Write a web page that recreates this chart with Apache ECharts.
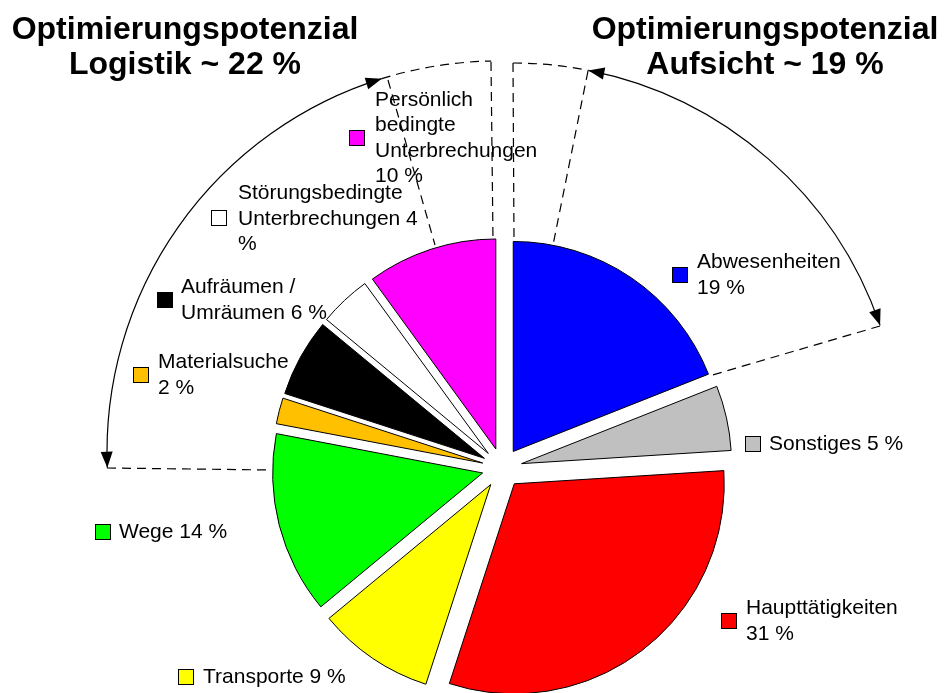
<!DOCTYPE html>
<html>
<head>
<meta charset="utf-8">
<script src="https://cdn.jsdelivr.net/npm/echarts@6/dist/echarts.min.js"></script>
<style>
html,body{margin:0;padding:0;background:#fff}
#pie{width:945px;height:693px}
</style>
</head>
<body>
<div id="pie"></div>
<script>
let fontName = '"Liberation Sans", Arial, sans-serif'

// Daten (Anteile in %), im Uhrzeigersinn ab 12 Uhr
let categories = ['Abwesenheiten','Sonstiges','Haupttätigkeiten','Transporte','Wege',
	'Materialsuche','Aufräumen / Umräumen','Störungsbedingte Unterbrechungen','Persönlich bedingte Unterbrechungen']
let values = [19, 5, 31, 9, 14, 2, 6, 4, 10]
let colors = ['#0000ff','#c0c0c0','#ff0000','#ffff00','#00ff00','#ffc000','#000000','#ffffff','#ff00ff']

// Beschriftung: Text vor dem Wert, Text nach dem Wert
let labelHead = ['Abwesenheiten\n','Sonstiges ','Haupttätigkeiten\n','Transporte ','Wege ',
	'Materialsuche\n','Aufräumen /\nUmräumen ','Störungsbedingte\nUnterbrechungen ','Persönlich\nbedingte\nUnterbrechungen\n']
let labelTail = [' %',' %',' %',' %',' %',' %',' %','\n%',' %']

// Lage der Beschriftungen (links/mitte) und der Farbkästchen
let textPos = [[697,275],[769,444],[746,621],[203,677],[119,532],[158,375],[181,300],[238,219],[375,138]]
let keyPos = [[680,275],[753,444],[729,621],[186,677],[103,532],[141,375],[165,300],[219,218],[357,138]]

let pieCenter = [502,468]
let pieRadius = 210

function deg(a) { return a*Math.PI/180 }

function arcPart(c, r, a0, a1, dashed) {
	return {
		type:'arc', z:10,
		shape:{cx:c[0], cy:c[1], r:r, startAngle:deg(a0), endAngle:deg(a1), clockwise:true},
		style:{stroke:'#000', fill:null, lineWidth:1.2, lineDash: dashed ? [9,6] : null}
	}
}

function arrowHead(c, r, a, sign) {
	let t = deg(a)
	let px = c[0] + r*Math.cos(t), py = c[1] + r*Math.sin(t)
	let ux = -Math.sin(t)*sign, uy = Math.cos(t)*sign
	let L = 16, w = 6
	let bx = px - L*ux, by = py - L*uy
	return {
		type:'polygon', z:10,
		shape:{points:[[px,py],[bx - w*uy, by + w*ux],[bx + w*uy, by - w*ux]]},
		style:{fill:'#000'}
	}
}

function dashLine(x1, y1, x2, y2) {
	return {
		type:'line', z:10,
		shape:{x1:x1, y1:y1, x2:x2, y2:y2},
		style:{stroke:'#000', lineWidth:1.2, lineDash:[9,6]}
	}
}

// unsichtbarer Kreis, der nur Beschriftungen trägt
function labelPie(label, pos, align) {
	return {
		type:'pie',
		center:pieCenter,
		radius:pieRadius,
		startAngle:90,
		silent:true,
		z:3,
		avoidLabelOverlap:false,
		itemStyle:{color:'rgba(0,0,0,0)', borderWidth:0},
		label:Object.assign({show:true, position:'outside'}, label),
		labelLine:{show:false},
		labelLayout: p => ({x:pos[p.dataIndex][0], y:pos[p.dataIndex][1], align:align, verticalAlign:'middle'}),
		data: categories.map((n,i)=>({name:n, value:values[i]}))
	}
}

function makePie(id) {
	let chart = echarts.init(document.getElementById(id))

	let keyRich = {}
	colors.forEach((c,i)=>{
		keyRich['k'+i] = {width:14, height:14, backgroundColor:c, borderColor:'#000', borderWidth:1}
	})

	let leftC = [498,452], leftR = 391
	let rightC = [513,451], rightR = 388

	let option = {
		animation:false,
		graphic:[
			{type:'text', x:185, y:13, style:{text:'Optimierungspotenzial\nLogistik ~ 22 %', fontFamily:fontName,
				fontSize:32, fontWeight:'bold', lineHeight:35, align:'center', verticalAlign:'top', fill:'#000'}},
			{type:'text', x:765, y:13, style:{text:'Optimierungspotenzial\nAufsicht ~ 19 %', fontFamily:fontName,
				fontSize:32, fontWeight:'bold', lineHeight:35, align:'center', verticalAlign:'top', fill:'#000'}},
			// Logistik
			arcPart(leftC, leftR, 177.7, 252.7, false),
			arcPart(leftC, leftR, 252.7, 269, true),
			arrowHead(leftC, leftR, 177.7, -1),
			arrowHead(leftC, leftR, 252.7, 1),
			dashLine(107,468,272,470),
			dashLine(491,62,493,240),
			dashLine(388,80,435,245),
			// Aufsicht
			arcPart(rightC, rightR, 281.2, 341.1, false),
			arcPart(rightC, rightR, 270, 281.2, true),
			arrowHead(rightC, rightR, 281.2, -1),
			arrowHead(rightC, rightR, 341.1, 1),
			dashLine(513,63,514,240),
			dashLine(588,71,553,245),
			dashLine(880,326,709,376)
		],
		series:[
			{
				type:'pie',
				center:pieCenter,
				radius:pieRadius,
				startAngle:90,
				clockwise:true,
				selectedMode:'multiple',
				selectedOffset:20,
				emphasis:{disabled:true},
				itemStyle:{borderColor:'#000', borderWidth:1},
				label:{show:false},
				labelLine:{show:false},
				data: categories.map((n,i)=>({name:n, value:values[i], selected:true, itemStyle:{color:colors[i]}}))
			},
			labelPie({
				color:'#000', fontFamily:fontName, fontSize:21, lineHeight:25.5,
				formatter: p => labelHead[p.dataIndex] + p.value + labelTail[p.dataIndex]
			}, textPos, 'left'),
			labelPie({
				formatter: p => '{k' + p.dataIndex + '|}',
				rich:keyRich
			}, keyPos, 'center')
		]
	}
	chart.setOption(option)
}

window.onload = function() {
	makePie('pie')
}
</script>
</body>
</html>
